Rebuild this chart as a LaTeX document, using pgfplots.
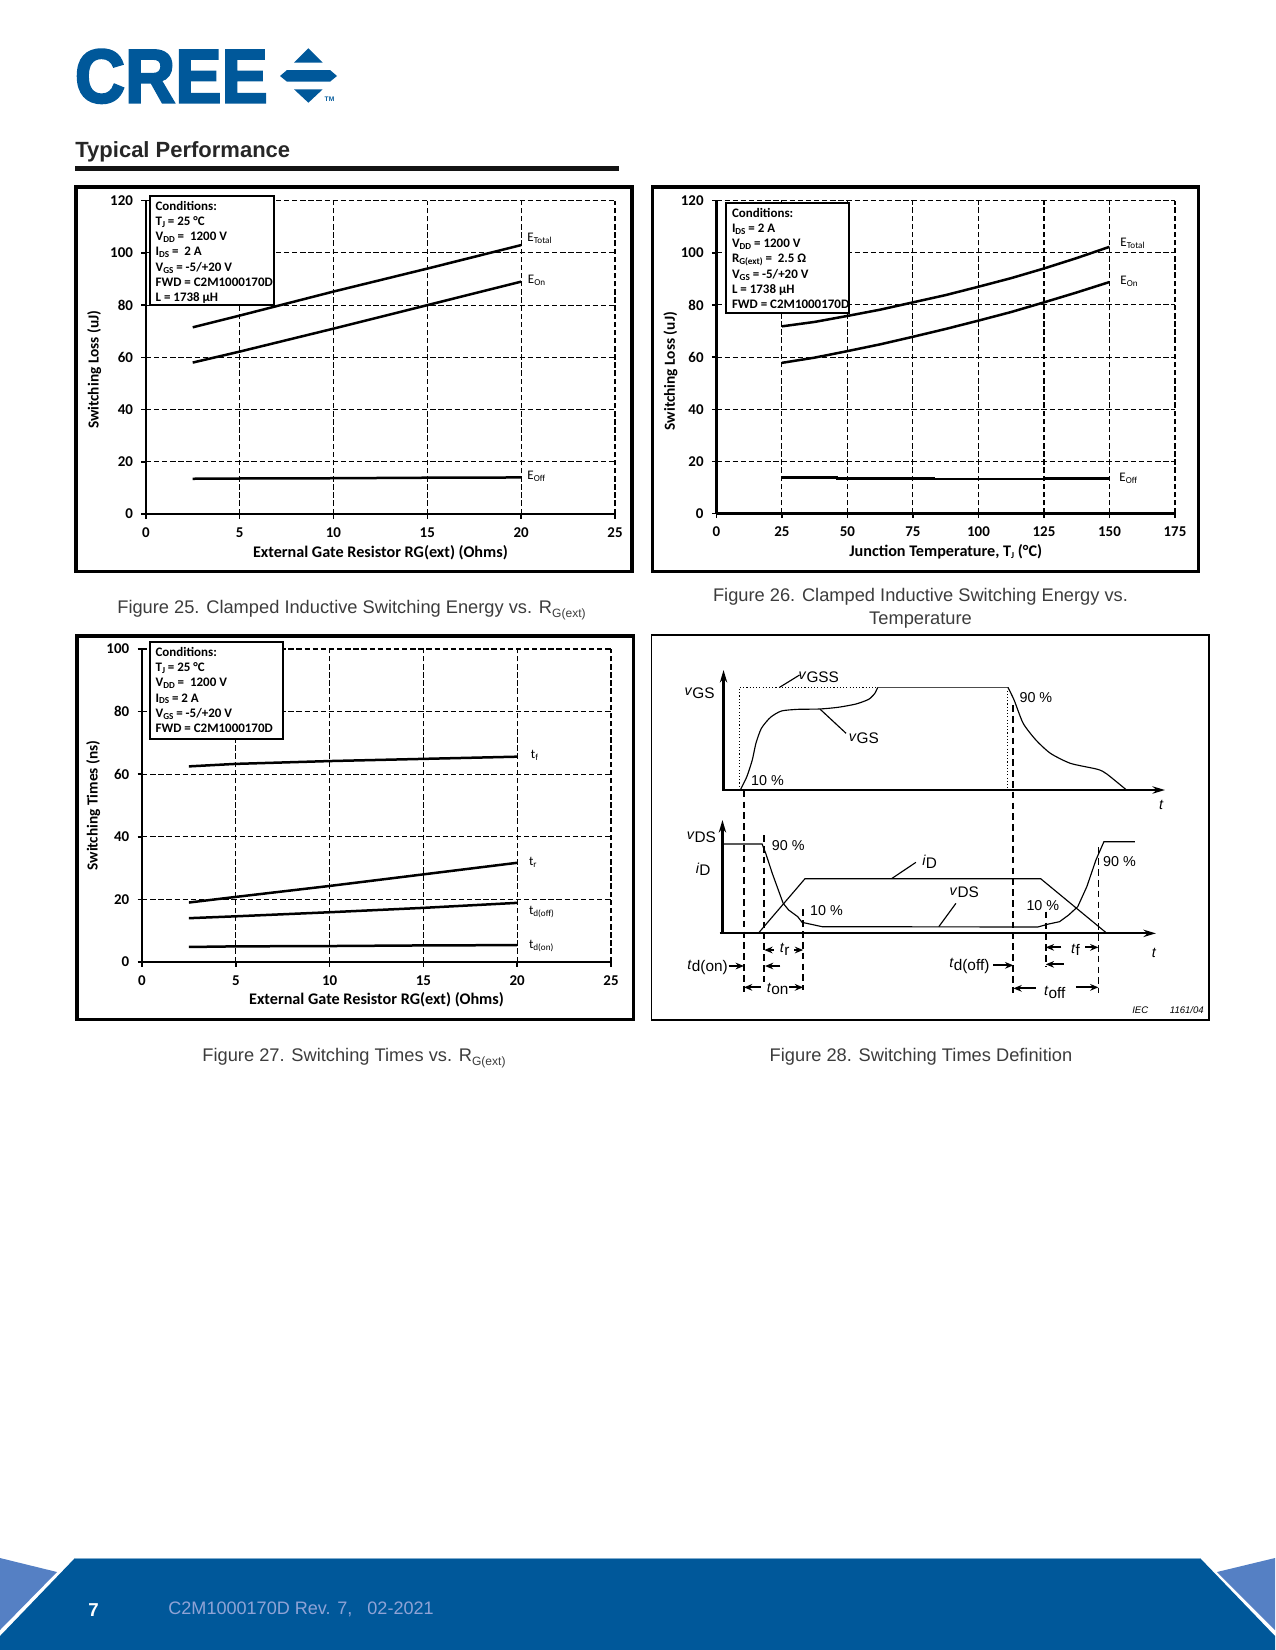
\documentclass[border=0pt]{standalone}
\usepackage{fontspec}
\usepackage{graphicx}
\usepackage{pgfplots}
\pgfplotsset{compat=1.18}
\usetikzlibrary{arrows.meta}
\setmainfont{Carlito}
\newfontfamily\lib{Liberation Sans}
\newfontfamily\logofont[BoldFeatures={FakeBold=3}]{Liberation Sans}
\newlength\pxu
\setlength\pxu{0.48bp}
\definecolor{creeblue}{HTML}{00589A}
\definecolor{creelight}{HTML}{5580C4}
\definecolor{creetext}{HTML}{8FA3D6}
\definecolor{capgray}{HTML}{3C3C3C}
% text helpers
\newcommand\smallsub[1]{\raisebox{-0.3ex}{\fontsize{4.4}{5}\selectfont #1}}
\newcommand\condfont{\bfseries\fontsize{6.25}{7.3}\selectfont}
\newcommand\curvefont{\fontsize{6.3}{7}\selectfont}
\newcommand\capfont{\lib\fontsize{8.8}{10}\selectfont}
\newcommand\capsub[1]{\raisebox{-0.4ex}{\fontsize{5.8}{7}\selectfont #1}}
\newcommand\diafont{\lib\fontsize{6.9}{8}\selectfont}
\newcommand\dsub[1]{\raisebox{-0.35ex}{\fontsize{7.4}{8}\selectfont #1}}
\pgfplotsset{
  perf/.style={
    scale only axis,
    axis lines=left,
    axis line style={-,line width=1.1bp},
    tick style={black,line width=0.7bp},
    major tick length=4.5\pxu,
    tick align=outside,
    enlargelimits=false,
    clip=false,
    grid=major,
    grid style={black,line width=0.5bp,dash pattern=on 2.6bp off 1.3bp},
    /pgf/number format/assume math mode=true,
    tick label style={font=\bfseries\fontsize{7.2}{8}\selectfont},
    xticklabel style={yshift=-1.5\pxu},
    yticklabel style={xshift=-1\pxu},
    xlabel style={font=\bfseries\fontsize{7.8}{9}\selectfont},
    ylabel style={font=\bfseries\fontsize{7.4}{9}\selectfont},
  },
  perfline/.style={black,line width=1.2bp,no marks},
  axarrow/.style={black,no marks,line width=1.1bp,-{Stealth[length=6bp,width=3.5bp]}},
  marker/.style={black,no marks,line width=0.9bp,dash pattern=on 3.2bp off 2bp},
  harrow/.style={black,no marks,line width=0.9bp,-{Stealth[length=4bp,width=3.2bp]}},
  thinl/.style={black,no marks,line width=0.55bp},
}
\tikzset{dl/.style={font=\diafont,inner sep=0pt}}
\begin{document}
\begin{tikzpicture}
\path[use as bounding box] (0pt,0pt) rectangle (1275\pxu,-1650\pxu);

% header
\node[inner sep=0pt,anchor=north west,text=creeblue] at (74.5\pxu,-49\pxu)
  {\resizebox{193\pxu}{53\pxu}{\logofont\bfseries CREE}};
\fill[creeblue] (294\pxu,-62.7\pxu) -- (322.7\pxu,-62.7\pxu) -- (308.4\pxu,-48.3\pxu) -- cycle;
\fill[creeblue] (280\pxu,-76\pxu) -- (287\pxu,-70\pxu) -- (330\pxu,-70\pxu) -- (337\pxu,-76\pxu) -- (330\pxu,-81.7\pxu) -- (287\pxu,-81.7\pxu) -- cycle;
\fill[creeblue] (294\pxu,-89.3\pxu) -- (322.7\pxu,-89.3\pxu) -- (308.4\pxu,-102.7\pxu) -- cycle;
\node[text=creeblue,inner sep=0pt,font=\lib\bfseries\fontsize{3.2}{4}\selectfont] at (329.5\pxu,-99\pxu) {TM};
\node[anchor=west,inner sep=0pt,text=black!85,font=\lib\bfseries\fontsize{10.6}{13}\selectfont] at (75\pxu,-152\pxu) {Typical Performance};
\fill[black!92] (75\pxu,-166\pxu) rectangle (619\pxu,-171\pxu);

% footer
\fill[creelight] (0pt,-1558\pxu) -- (57\pxu,-1572\pxu) -- (0pt,-1630\pxu) -- cycle;
\fill[creelight] (1275\pxu,-1558\pxu) -- (1217\pxu,-1572\pxu) -- (1275\pxu,-1630\pxu) -- cycle;
\fill[creeblue] (75\pxu,-1558\pxu) -- (1200\pxu,-1558\pxu) -- (1275\pxu,-1636\pxu) -- (1275\pxu,-1650\pxu) -- (0pt,-1650\pxu) -- (0pt,-1636\pxu) -- cycle;
\draw[creeblue!50!white,line width=0.4bp] (75\pxu,-1558\pxu) -- (1200\pxu,-1558\pxu);
\node[text=white,font=\lib\bfseries\fontsize{9}{10}\selectfont,inner sep=0pt] at (93.6\pxu,-1610\pxu) {7};
\node[anchor=west,inner sep=0pt,text=creetext,font=\lib\fontsize{8.7}{10}\selectfont] at (168\pxu,-1609\pxu) {C2M1000170D Rev. 7,\ \ \ 02-2021};

% Figure 25
\draw[line width=1.7bp] (76\pxu,-187\pxu) rectangle (632\pxu,-571.5\pxu);
\begin{axis}[perf,at={(145.8\pxu,-514\pxu)},anchor=south west,width=469.2\pxu,height=313.3\pxu,
  xmin=0,xmax=25,ymin=0,ymax=120,xtick={0,5,10,15,20,25},ytick={0,20,40,60,80,100,120},
  xlabel={External Gate Resistor RG(ext) (Ohms)},ylabel={Switching Loss (uJ)},
  x label style={at={(axis description cs:0.5,-0.122)},anchor=center},
  y label style={at={(axis description cs:-0.11,0.46)},anchor=center}]
\addplot[perfline] coordinates {(2.5,71.5) (5,76) (10,85.2) (15,94) (20,103)};
\addplot[perfline] coordinates {(2.5,58) (5,62.2) (10,71) (15,80) (20,89)};
\addplot[perfline] coordinates {(2.5,13.5) (5,13.6) (10,13.7) (15,13.9) (20,14)};
\end{axis}
\draw[line width=1bp,fill=white] (149.6\pxu,-196\pxu) rectangle (273.8\pxu,-305\pxu);
\node[anchor=north west,inner sep=0pt,align=left,font=\condfont] at (155.2\pxu,-201\pxu)
  {Conditions:\\T\smallsub{J} = 25 °C\\V\smallsub{DD} = \ 1200 V\\I\smallsub{DS} = \ 2 A\\V\smallsub{GS} = -5/+20 V\\FWD = C2M1000170D\\L = 1738 µH};
\node[anchor=west,inner sep=0pt,font=\curvefont] at (527\pxu,-238\pxu) {E\smallsub{Total}};
\node[anchor=west,inner sep=0pt,font=\curvefont] at (527.5\pxu,-280\pxu) {E\smallsub{On}};
\node[anchor=west,inner sep=0pt,font=\curvefont] at (527\pxu,-476\pxu) {E\smallsub{Off}};

% Figure 26
\draw[line width=1.7bp] (652.5\pxu,-187\pxu) rectangle (1198.5\pxu,-571.5\pxu);
\begin{axis}[perf,at={(716.4\pxu,-513.5\pxu)},anchor=south west,width=458.6\pxu,height=312.8\pxu,
  xmin=0,xmax=175,ymin=0,ymax=120,xtick={0,25,50,75,100,125,150,175},ytick={0,20,40,60,80,100,120},
  xlabel={Junction Temperature, T\smallsub{J} (°C)},ylabel={Switching Loss (uJ)},
  x label style={at={(axis description cs:0.5,-0.122)},anchor=center},
  y label style={at={(axis description cs:-0.10,0.455)},anchor=center}]
\addplot[perfline] coordinates {(25,71.8) (37.5,73.5) (50,75.8) (62.5,78.2) (75,81) (87.5,83.8) (100,87) (112.5,90.3) (125,94) (137.5,98) (150,102.3)};
\addplot[perfline] coordinates {(25,57.8) (37.5,59.8) (50,62.3) (62.5,64.9) (75,67.8) (87.5,70.8) (100,74) (112.5,77.3) (125,81) (137.5,84.8) (150,88.8)};
\addplot[perfline] coordinates {(25,13.9) (46,13.9) (46,13.5) (83,13.5) (83,13.2) (125,13.2) (125,13.5) (150,13.5)};
\end{axis}
\draw[line width=1bp,fill=white] (725.8\pxu,-202.7\pxu) rectangle (849\pxu,-312.7\pxu);
\node[anchor=north west,inner sep=0pt,align=left,font=\condfont] at (731.6\pxu,-208\pxu)
  {Conditions:\\I\smallsub{DS} = 2 A\\V\smallsub{DD} = 1200 V\\R\smallsub{G(ext)} = \ 2.5 Ω\\V\smallsub{GS} = -5/+20 V\\L = 1738 µH\\FWD = C2M1000170D};
\node[anchor=west,inner sep=0pt,font=\curvefont] at (1120\pxu,-243\pxu) {E\smallsub{Total}};
\node[anchor=west,inner sep=0pt,font=\curvefont] at (1120\pxu,-281\pxu) {E\smallsub{On}};
\node[anchor=west,inner sep=0pt,font=\curvefont] at (1119\pxu,-478\pxu) {E\smallsub{Off}};

% Figure 27
\draw[line width=1.7bp] (77\pxu,-636\pxu) rectangle (633.5\pxu,-1019.5\pxu);
\begin{axis}[perf,at={(142\pxu,-962\pxu)},anchor=south west,width=469\pxu,height=313\pxu,
  xmin=0,xmax=25,ymin=0,ymax=100,xtick={0,5,10,15,20,25},ytick={0,20,40,60,80,100},
  xlabel={External Gate Resistor RG(ext) (Ohms)},ylabel={Switching Times (ns)},
  x label style={at={(axis description cs:0.5,-0.121)},anchor=center},
  y label style={at={(axis description cs:-0.104,0.5)},anchor=center}]
\addplot[perfline] coordinates {(2.5,62.5) (5,63.3) (10,64.2) (15,64.9) (20,65.6)};
\addplot[perfline] coordinates {(2.5,19) (5,20.8) (10,24.3) (15,28) (20,31.7)};
\addplot[perfline] coordinates {(2.5,14) (5,14.6) (10,15.9) (15,17.3) (20,18.9)};
\addplot[perfline] coordinates {(2.5,4.8) (5,5) (10,5.1) (15,5.3) (20,5.4)};
\end{axis}
\draw[line width=1bp,fill=white] (149.6\pxu,-641.7\pxu) rectangle (283\pxu,-739\pxu);
\node[anchor=north west,inner sep=0pt,align=left,font=\condfont] at (155.2\pxu,-647\pxu)
  {Conditions:\\T\smallsub{J} = 25 °C\\V\smallsub{DD} = \ 1200 V\\I\smallsub{DS} = 2 A\\V\smallsub{GS} = -5/+20 V\\FWD = C2M1000170D};
\node[anchor=west,inner sep=0pt,font=\curvefont] at (530.5\pxu,-755\pxu) {t\smallsub{f}};
\node[anchor=west,inner sep=0pt,font=\curvefont] at (528.6\pxu,-862\pxu) {t\smallsub{r}};
\node[anchor=west,inner sep=0pt,font=\curvefont] at (528.6\pxu,-912\pxu) {t\smallsub{d(off)}};
\node[anchor=west,inner sep=0pt,font=\curvefont] at (528.6\pxu,-946\pxu) {t\smallsub{d(on)}};

% Figure 28: x runs 2.75 and y 3 units per pixel
\draw[line width=0.9bp] (651.5\pxu,-635\pxu) rectangle (1208.6\pxu,-1020\pxu);
\begin{axis}[scale only axis,hide axis,clip=false,at={(930\pxu,-855\pxu)},anchor=center,
  width=570\pxu,height=450\pxu,xmin=0,xmax=1567.5,ymin=0,ymax=1350,y dir=reverse]
% axes
\addplot[axarrow] coordinates {(216,482) (216,120)};
\addplot[axarrow] coordinates {(212,480) (1430,480)};
\addplot[axarrow] coordinates {(213,912) (213,570)};
\addplot[axarrow] coordinates {(205,910) (1405,910)};
% vGS, upper panel
\addplot[thinl,densely dotted] coordinates {(260,480) (260,172) (640,172)};
\addplot[thinl,densely dotted] coordinates {(998,172) (998,480)};
\addplot[black!70,no marks,line width=0.8bp] coordinates {(640,172) (998,172)};
\addplot[thinl,smooth,tension=0.4] coordinates {(262,480) (280,440) (295,390) (305,340) (320,295) (345,262) (375,243) (420,238) (480,237) (530,232) (580,222) (615,208) (632,190) (640,172)};
\addplot[thinl,smooth,tension=0.4] coordinates {(998,172) (1015,210) (1040,280) (1075,330) (1115,370) (1170,400) (1245,418) (1270,432) (1322,478)};
\addplot[thinl] coordinates {(370,172) (425,135)};
\addplot[thinl] coordinates {(482,238) (553,310)};
% VDS and iD, lower panel
\addplot[thinl] coordinates {(213,642) (322,642) (332,670) (350,730) (380,820) (395,840) (420,860) (432,877) (487,890) (1080,891) (1110,882) (1140,875) (1165,855) (1190,830) (1215,770) (1240,690) (1262,635) (1347,635)};
\addplot[thinl] coordinates {(313,908) (440,746) (1088,746) (1268,908)};
\addplot[thinl] coordinates {(678,746) (745,697)};
\addplot[thinl] coordinates {(808,890) (855,820)};
% timing markers
\addplot[marker] coordinates {(272,482) (272,1088)};
\addplot[marker] coordinates {(1013,225) (1013,1092)};
\addplot[marker] coordinates {(328,615) (328,1055)};
\addplot[marker] coordinates {(435,838) (435,1080)};
\addplot[marker] coordinates {(1102,845) (1102,1010)};
\addplot[marker] coordinates {(1247,652) (1247,1090)};
\addplot[harrow] coordinates {(355,960) (328,960)};
\addplot[harrow] coordinates {(410,960) (435,960)};
\addplot[harrow] coordinates {(230,1008) (272,1008)};
\addplot[harrow] coordinates {(372,1008) (330,1008)};
\addplot[harrow] coordinates {(318,1072) (272,1072)};
\addplot[harrow] coordinates {(395,1072) (435,1072)};
\addplot[harrow] coordinates {(957,1006) (1013,1006)};
\addplot[harrow] coordinates {(1075,1075) (1013,1075)};
\addplot[harrow] coordinates {(1185,1072) (1247,1072)};
\addplot[harrow] coordinates {(1145,952) (1102,952)};
\addplot[harrow] coordinates {(1210,952) (1247,952)};
\addplot[harrow] coordinates {(1152,1003) (1102,1003)};
% labels
\node[dl] at (150,190) {\textit{v}\dsub{GS}};
\node[dl] at (478,142) {\textit{v}\dsub{GSS}};
\node[dl] at (602,326) {\textit{v}\dsub{GS}};
\node[dl] at (337,452) {10 \%};
\node[dl] at (1075,202) {90 \%};
\node[dl] at (1420,525) {\textit{t}};
\node[dl] at (155,621) {\textit{v}\dsub{DS}};
\node[dl] at (160,718) {\textit{i}\dsub{D}};
\node[dl] at (394,647) {90 \%};
\node[dl] at (783,695) {\textit{i}\dsub{D}};
\node[dl] at (878,788) {\textit{v}\dsub{DS}};
\node[dl] at (499,842) {10 \%};
\node[dl] at (1094,826) {10 \%};
\node[dl] at (1305,694) {90 \%};
\node[dl] at (1400,969) {\textit{t}};
\node[dl] at (384,959) {\textit{t}\dsub{r}};
\node[dl] at (1184,960) {\textit{t}\dsub{f}};
\node[dl] at (172,1012) {\textit{t}\dsub{d(on)}};
\node[dl] at (892,1007) {\textit{t}\dsub{d(off)}};
\node[dl] at (365,1077) {\textit{t}\dsub{on}};
\node[dl] at (1127,1088) {\textit{t}\dsub{off}};
\node[dl,font=\lib\itshape\fontsize{4.6}{5}\selectfont] at (1362,1140) {IEC};
\node[dl,font=\lib\itshape\fontsize{4.6}{5}\selectfont] at (1490,1140) {1161/04};
\end{axis}

% captions
\node[font=\capfont,text=capgray,inner sep=0pt] at (351.5\pxu,-610\pxu) {Figure 25. Clamped Inductive Switching Energy vs. R\capsub{G(ext)}};
\node[font=\capfont,text=capgray,inner sep=0pt] at (920.5\pxu,-597\pxu) {Figure 26. Clamped Inductive Switching Energy vs.};
\node[font=\capfont,text=capgray,inner sep=0pt] at (920.5\pxu,-620.5\pxu) {Temperature};
\node[font=\capfont,text=capgray,inner sep=0pt] at (354\pxu,-1058\pxu) {Figure 27. Switching Times vs. R\capsub{G(ext)}};
\node[font=\capfont,text=capgray,inner sep=0pt] at (921\pxu,-1057\pxu) {Figure 28. Switching Times Definition};
\end{tikzpicture}
\end{document}
